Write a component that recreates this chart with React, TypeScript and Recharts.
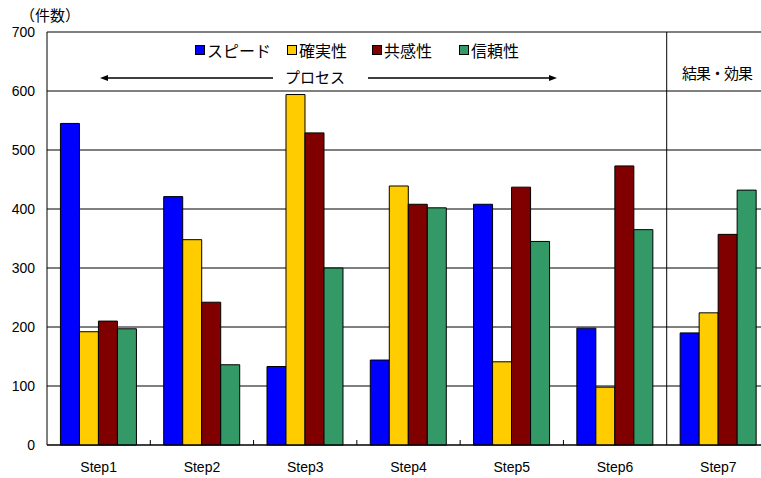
import React from "react";
import { BarChart, Bar, XAxis, YAxis, CartesianGrid, ReferenceLine } from "recharts";

const steps = ["Step1", "Step2", "Step3", "Step4", "Step5", "Step6", "Step7"];
const speed = [545, 421, 133, 144, 408, 198, 190];
const certainty = [192, 348, 594, 439, 141, 98, 224];
const empathy = [210, 242, 529, 408, 437, 473, 357];
const trust = [197, 136, 300, 402, 345, 365, 432];
const yTicks = [0, 100, 200, 300, 400, 500, 600, 700];

const SERIES = [
  { key: "speed", name: "スピード", color: "#0000FF" },
  { key: "certainty", name: "確実性", color: "#FFCC00" },
  { key: "empathy", name: "共感性", color: "#800000" },
  { key: "trust", name: "信頼性", color: "#339966" },
];

const data = steps.map((s, i) => ({
  step: s,
  speed: speed[i],
  certainty: certainty[i],
  empathy: empathy[i],
  trust: trust[i],
}));

const JP = "'Noto Sans CJK JP', 'Noto Sans', sans-serif";
const LAT = "'Liberation Sans', Arial, sans-serif";

const PLOT_TOP = 32;
const PLOT_BOTTOM = 445;
const PLOT_W = 723;
const BAND = PLOT_W / steps.length;
const LEGEND_X = [195, 287, 372, 459];

function StepTick(props: any) {
  const { x, payload, index } = props;
  const bx = x + BAND / 2;
  return (
    <g>
      <text x={x} y={PLOT_BOTTOM + 27} textAnchor="middle" fontFamily={LAT} fontSize={14} fill="#000">
        {payload.value}
      </text>
      {index < steps.length - 1 && (
        <line
          x1={bx}
          x2={bx}
          y1={PLOT_BOTTOM}
          y2={index === 5 ? PLOT_TOP : PLOT_BOTTOM - 5}
          stroke="#000"
          strokeWidth={1}
        />
      )}
    </g>
  );
}

export default function App() {
  return (
    <div
      style={{
        position: "fixed",
        left: 0,
        top: 0,
        width: 761,
        height: 478,
        overflow: "hidden",
        background: "#fff",
      }}
    >
      <BarChart
        width={780}
        height={478}
        data={data}
        margin={{ top: PLOT_TOP, right: 10, bottom: 0, left: 0 }}
        barCategoryGap="13%"
        barGap={0}
      >
        <CartesianGrid vertical={false} stroke="#000" strokeWidth={1} />
        <XAxis
          dataKey="step"
          height={33}
          axisLine={{ stroke: "#000" }}
          tickLine={false}
          tick={<StepTick />}
          interval={0}
        />
        <YAxis
          width={47}
          domain={[0, 700]}
          ticks={yTicks}
          axisLine={{ stroke: "#000" }}
          tickLine={false}
          tickSize={0}
          tickMargin={12}
          tick={{ fill: "#000", fontSize: 14, fontFamily: LAT }}
        />
        <ReferenceLine y={700} stroke="#808080" strokeWidth={1.5} />
        {SERIES.map((s) => (
          <Bar
            key={s.key}
            dataKey={s.key}
            name={s.name}
            fill={s.color}
            stroke="#000"
            strokeWidth={1}
            isAnimationActive={false}
          />
        ))}
      </BarChart>

      <div style={{ position: "absolute", left: 20, top: 4, fontFamily: JP, fontSize: 15, lineHeight: "22px", color: "#000" }}>
        （件数）
      </div>

      {SERIES.map((s, i) => (
        <div
          key={s.key}
          style={{
            position: "absolute",
            left: LEGEND_X[i],
            top: 40,
            display: "flex",
            alignItems: "center",
            fontFamily: JP,
            fontSize: 16,
            lineHeight: "20px",
            color: "#000",
            whiteSpace: "nowrap",
          }}
        >
          <span
            style={{
              display: "inline-block",
              width: 8,
              height: 8,
              background: s.color,
              border: "1px solid #000",
              marginRight: 2,
            }}
          />
          <span>{s.name}</span>
        </div>
      ))}

      <svg style={{ position: "absolute", left: 0, top: 0 }} width={761} height={478}>
        <line x1={106} x2={273} y1={78} y2={78} stroke="#000" strokeWidth={1.5} />
        <polygon points="100,78 108,75 108,81" fill="#000" />
        <line x1={368} x2={550} y1={78} y2={78} stroke="#000" strokeWidth={1.5} />
        <polygon points="557,78 549,75 549,81" fill="#000" />
      </svg>

      <div style={{ position: "absolute", left: 285, top: 67, fontFamily: JP, fontSize: 15, lineHeight: "20px" }}>
        プロセス
      </div>
      <div
        style={{
          position: "absolute",
          left: 682,
          top: 63,
          fontFamily: JP,
          fontSize: 15,
          lineHeight: "20px",
          letterSpacing: "-1px",
          whiteSpace: "nowrap",
        }}
      >
        結果・効果
      </div>
    </div>
  );
}
